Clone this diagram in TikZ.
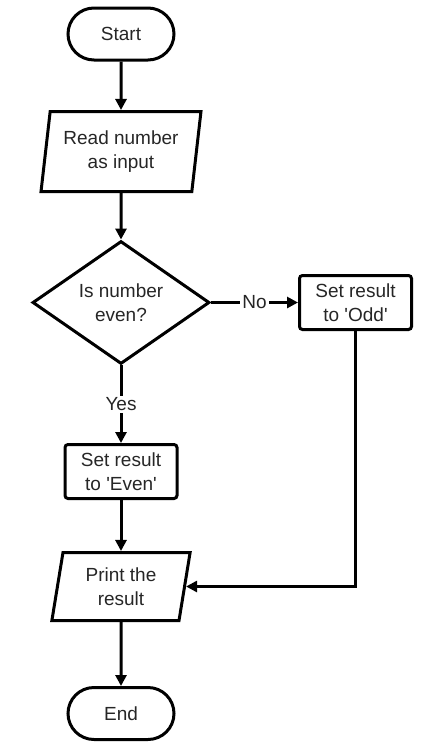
\documentclass[tikz,border=0pt]{standalone}
\usepackage{fontspec}
\setmainfont{Liberation Sans}
\usetikzlibrary{shapes.geometric,arrows.meta}

\begin{document}
\begin{tikzpicture}[x=1pt,y=1pt]
%styles
	\tikzset{
	base/.style={draw, line width=3pt, align=center, text=black!85, inner sep=0pt, font=\fontsize{19}{24.5}\selectfont},
	term/.style={base, rectangle, rounded corners=26pt, minimum width=106pt, minimum height=52pt},
	io/.style={base, trapezium, trapezium left angle=80, trapezium right angle=100, trapezium stretches=true},
	decision/.style={base, diamond, minimum width=177pt, minimum height=117pt},
	process/.style={base, rectangle, rounded corners=3pt, minimum width=112pt, minimum height=54pt},
	arrow/.style={line width=3pt, -{Triangle[length=11pt,width=11pt]}},
	edgetext/.style={fill=white, inner sep=2pt, text=black!85, font=\fontsize{19}{22}\selectfont}}

	\useasboundingbox (0,0) rectangle (433,-748);

%Knoten
	\node[term] (start) at (121,-34) {Start};
	\node[io, minimum width=160pt, minimum height=80pt] (read) at (121,-151.5) {Read number\\as input};
	\node[decision] (dec) at (121,-302.5) {Is number\\even?};
	\node[process] (odd) at (355.5,-302.5) {Set result\\to \textquotesingle Odd\textquotesingle};
	\node[process] (even) at (121,-471.5) {Set result\\to \textquotesingle Even\textquotesingle};
	\node[io, minimum width=139pt, minimum height=68pt] (print) at (121,-586.5) {Print the\\result};
	\node[term] (stop) at (121,-713.5) {End};

%Pfeile
	\draw[arrow] (start) -- (read);
	\draw[arrow] (read) -- (dec);
	\draw[arrow] (dec) -- node[edgetext] {No} (odd);
	\draw[arrow] (dec) -- node[edgetext] {Yes} (even);
	\draw[arrow] (even) -- (print);
	\draw[arrow] (odd) |- (print);
	\draw[arrow] (print) -- (stop);

\end{tikzpicture}
\end{document}
